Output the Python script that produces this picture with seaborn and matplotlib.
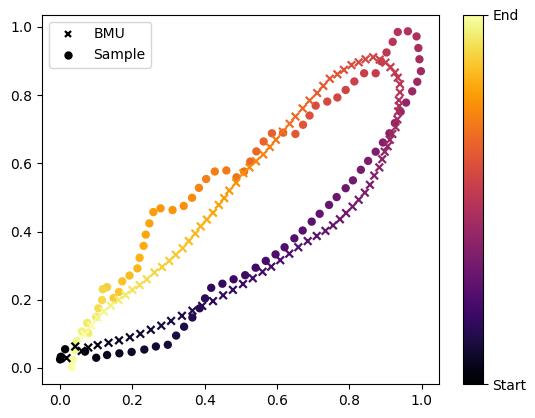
import numpy as np
import pandas as pd
import matplotlib
matplotlib.use("Agg")
import matplotlib.pyplot as plt
import seaborn as sns
from matplotlib.lines import Line2D
from matplotlib.cm import ScalarMappable
from matplotlib.colors import Normalize

sample_x = [0.000, 0.002, 0.014, 0.069, 0.100, 0.130, 0.164, 0.198, 0.233, 0.265,
            0.298, 0.321, 0.343, 0.366, 0.386, 0.401, 0.418, 0.449, 0.480, 0.512,
            0.541, 0.569, 0.596, 0.621, 0.648, 0.671, 0.696, 0.718, 0.744, 0.765,
            0.790, 0.810, 0.832, 0.852, 0.873, 0.893, 0.911, 0.926, 0.942, 0.957,
            0.974, 0.988, 0.998, 0.994, 0.991, 0.986, 0.962, 0.934, 0.920, 0.903,
            0.888, 0.873, 0.841, 0.814, 0.790, 0.767, 0.739, 0.707, 0.690, 0.672,
            0.651, 0.617, 0.586, 0.563, 0.543, 0.526, 0.509, 0.488, 0.460, 0.428,
            0.404, 0.384, 0.365, 0.342, 0.311, 0.278, 0.258, 0.247, 0.237, 0.231,
            0.220, 0.214, 0.192, 0.172, 0.163, 0.148, 0.130, 0.118, 0.116, 0.106,
            0.100, 0.075, 0.078, 0.060, 0.046, 0.040, 0.035, 0.032]
sample_y = [0.025, 0.033, 0.055, 0.048, 0.030, 0.038, 0.043, 0.047, 0.054, 0.063,
            0.068, 0.095, 0.121, 0.148, 0.175, 0.204, 0.235, 0.247, 0.260, 0.272,
            0.294, 0.314, 0.333, 0.354, 0.380, 0.403, 0.429, 0.452, 0.478, 0.501,
            0.527, 0.550, 0.581, 0.607, 0.634, 0.661, 0.688, 0.718, 0.751, 0.778,
            0.811, 0.839, 0.870, 0.905, 0.938, 0.972, 0.987, 0.985, 0.956, 0.925,
            0.899, 0.864, 0.864, 0.840, 0.815, 0.793, 0.781, 0.769, 0.740, 0.713,
            0.686, 0.690, 0.688, 0.664, 0.635, 0.605, 0.576, 0.559, 0.579, 0.576,
            0.554, 0.528, 0.499, 0.475, 0.463, 0.468, 0.457, 0.424, 0.391, 0.358,
            0.323, 0.292, 0.271, 0.254, 0.223, 0.205, 0.237, 0.231, 0.199, 0.175,
            0.150, 0.132, 0.102, 0.107, 0.079, 0.053, 0.024, 0.002]

bmu_x = [0.018, 0.042, 0.060, 0.078, 0.104, 0.134, 0.163, 0.193, 0.222, 0.251,
         0.280, 0.307, 0.337, 0.366, 0.393, 0.423, 0.451, 0.478, 0.506, 0.533,
         0.560, 0.584, 0.609, 0.634, 0.659, 0.685, 0.710, 0.734, 0.755, 0.774,
         0.791, 0.809, 0.826, 0.843, 0.857, 0.869, 0.883, 0.891, 0.898, 0.906,
         0.912, 0.919, 0.928, 0.933, 0.935, 0.938, 0.937, 0.940, 0.940, 0.934,
         0.926, 0.914, 0.900, 0.884, 0.866, 0.845, 0.826, 0.806, 0.785, 0.767,
         0.746, 0.728, 0.711, 0.690, 0.671, 0.651, 0.635, 0.616, 0.597, 0.580,
         0.562, 0.542, 0.524, 0.507, 0.487, 0.468, 0.454, 0.439, 0.423, 0.406,
         0.389, 0.374, 0.356, 0.339, 0.320, 0.302, 0.282, 0.261, 0.240, 0.220,
         0.200, 0.181, 0.162, 0.140, 0.121, 0.103, 0.086, 0.068]
bmu_y = [0.029, 0.063, 0.050, 0.060, 0.067, 0.074, 0.081, 0.090, 0.100, 0.112,
         0.124, 0.138, 0.153, 0.168, 0.182, 0.196, 0.213, 0.229, 0.246, 0.263,
         0.282, 0.297, 0.316, 0.335, 0.354, 0.372, 0.387, 0.402, 0.418, 0.436,
         0.454, 0.473, 0.493, 0.514, 0.537, 0.564, 0.588, 0.612, 0.634, 0.650,
         0.669, 0.686, 0.706, 0.729, 0.752, 0.768, 0.785, 0.808, 0.832, 0.851,
         0.866, 0.882, 0.895, 0.904, 0.911, 0.905, 0.896, 0.888, 0.874, 0.861,
         0.848, 0.827, 0.806, 0.784, 0.761, 0.737, 0.716, 0.693, 0.669, 0.648,
         0.626, 0.606, 0.588, 0.571, 0.543, 0.520, 0.498, 0.478, 0.455, 0.435,
         0.415, 0.394, 0.372, 0.351, 0.332, 0.314, 0.296, 0.280, 0.260, 0.243,
         0.229, 0.214, 0.199, 0.183, 0.166, 0.148, 0.124, 0.098]

colorbar_labels = ["Start", "End"]
legend_labels = ["BMU", "Sample"]

n = len(sample_x)
step = np.arange(n)
df_s = pd.DataFrame({"x": sample_x, "y": sample_y, "t": step})
df_b = pd.DataFrame({"x": bmu_x, "y": bmu_y, "t": np.arange(len(bmu_x))})

fig = plt.figure(figsize=(5.35, 4.18), dpi=100)
ax = fig.add_axes([0.0785, 0.0813, 0.742, 0.883])
cax = fig.add_axes([0.866, 0.0813, 0.036, 0.883])

cmap = "inferno"
norm = Normalize(0, n - 1)
sns.scatterplot(data=df_s, x="x", y="y", hue="t", hue_norm=norm, palette=cmap,
                marker="o", s=36, linewidth=0, legend=False, ax=ax)
sns.scatterplot(data=df_b, x="x", y="y", hue="t", hue_norm=norm, palette=cmap,
                marker="x", s=30, linewidth=1.6, legend=False, ax=ax)

ax.set_xlim(-0.050, 1.048)
ax.set_ylim(-0.047, 1.035)
ax.set_xticks([0.0, 0.2, 0.4, 0.6, 0.8, 1.0])
ax.set_yticks([0.0, 0.2, 0.4, 0.6, 0.8, 1.0])
ax.set_xlabel("")
ax.set_ylabel("")

handles = [Line2D([], [], marker="x", color="black", linestyle="none",
                  markersize=5, markeredgewidth=1.6),
           Line2D([], [], marker="o", color="black", linestyle="none",
                  markersize=5)]
ax.legend(handles, legend_labels, loc="upper left")

cb = fig.colorbar(ScalarMappable(norm=norm, cmap=cmap), cax=cax, ticks=[0, n - 1])
cb.ax.set_yticklabels(colorbar_labels)
cb.outline.set_linewidth(0.8)

fig.savefig("out.png", dpi=100)
